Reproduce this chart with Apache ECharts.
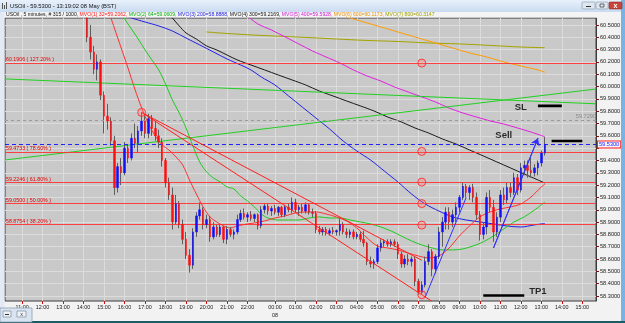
<!DOCTYPE html>
<html><head><meta charset="utf-8">
<script src="https://cdn.jsdelivr.net/npm/echarts@6/dist/echarts.min.js"></script>
<style>html,body{margin:0;padding:0;background:#f2f2f2;overflow:hidden}#c{width:625px;height:323px}</style>
</head><body><div id="c"></div>
<script>
// ---------------- DATA ----------------
// 10-minute slots on the (compressed) time axis: [day, startH, startM, endH, endM]
const sessions = [['07',10,10,22,10],['07',23,0,23,50],['08',0,0,15,40]];
const xTickKeys = ['07 11:00','07 12:00','07 13:00','07 14:00','07 15:00','07 16:00','07 17:00','07 18:00','07 19:00','07 20:00','07 21:00','07 22:00',
  '08 00:00','08 01:00','08 02:00','08 03:00','08 04:00','08 05:00','08 06:00','08 07:00','08 08:00','08 09:00','08 10:00','08 11:00','08 12:00','08 13:00','08 14:00','08 15:00'];
const xTickTexts = ['11:00','12:00','13:00','14:00','15:00','16:00','17:00','18:00','19:00','20:00','21:00','22:00',
  '00:00\n08','01:00','02:00','03:00','04:00','05:00','06:00','07:00','08:00','09:00','10:00','11:00','12:00','13:00','14:00','15:00'];
const yTicks = [58.3,58.4,58.5,58.6,58.7,58.8,58.9,59.0,59.1,59.2,59.3,59.4,59.5,59.6,59.7,59.8,59.9,60.0,60.1,60.2,60.3,60.4,60.5];
const yLabels = [58.3,58.4,58.5,58.6,58.7,58.8,58.9,59.0,59.1,59.2,59.3,59.4,59.6,59.7,59.8,59.9,60.0,60.1,60.2,60.3,60.4,60.5];

// candles: [time, open, high, low, close]
const candles = [
['07 14:10',60.66,60.70,60.36,60.40],['07 14:20',60.40,60.50,60.22,60.28],['07 14:30',60.28,60.33,60.10,60.14],['07 14:40',60.14,60.26,60.05,60.20],
['07 14:50',60.20,60.22,59.89,59.93],['07 15:00',59.93,59.96,59.62,59.76],['07 15:10',59.76,59.86,59.65,59.72],['07 15:20',59.72,59.75,59.52,59.56],
['07 15:30',59.56,59.60,59.12,59.18],['07 15:40',59.18,59.38,59.14,59.35],['07 15:50',59.35,59.42,59.20,59.30],['07 16:00',59.30,59.55,59.28,59.50],
['07 16:10',59.50,59.53,59.38,59.42],['07 16:20',59.42,59.62,59.40,59.58],['07 16:30',59.58,59.70,59.50,59.54],['07 16:40',59.54,59.68,59.46,59.64],
['07 16:50',59.64,59.79,59.60,59.72],['07 17:00',59.72,59.76,59.58,59.62],['07 17:10',59.62,59.78,59.58,59.74],['07 17:20',59.74,59.77,59.60,59.66],
['07 17:30',59.66,59.72,59.56,59.60],['07 17:40',59.60,59.65,59.50,59.55],['07 17:50',59.55,59.58,59.35,59.40],['07 18:00',59.40,59.42,59.18,59.22],
['07 18:10',59.22,59.26,59.08,59.12],['07 18:20',59.12,59.18,58.84,58.90],['07 18:30',58.90,59.12,58.88,59.05],['07 18:40',59.05,59.07,58.85,58.88],
['07 18:50',58.88,58.92,58.72,58.76],['07 19:00',58.76,58.82,58.60,58.63],['07 19:10',58.63,58.68,58.49,58.55],['07 19:20',58.55,58.85,58.52,58.82],
['07 19:30',58.82,58.98,58.78,58.95],['07 19:40',58.95,59.06,58.92,59.00],['07 19:50',59.00,59.02,58.84,58.88],['07 20:00',58.88,58.96,58.85,58.92],
['07 20:10',58.92,58.95,58.74,58.78],['07 20:20',58.78,58.90,58.76,58.86],['07 20:30',58.86,58.88,58.78,58.80],['07 20:40',58.80,58.88,58.78,58.86],
['07 20:50',58.86,58.87,58.73,58.76],['07 21:00',58.76,58.87,58.72,58.84],['07 21:10',58.84,58.86,58.78,58.80],['07 21:20',58.80,58.84,58.76,58.82],
['07 21:30',58.82,58.96,58.80,58.92],['07 21:40',58.92,59.00,58.90,58.97],['07 21:50',58.97,59.01,58.92,58.94],['07 22:00',58.94,58.98,58.90,58.96],
['07 22:10',58.96,58.99,58.91,58.93],['07 23:00',58.93,58.97,58.90,58.96],['07 23:10',58.96,58.97,58.84,58.87],['07 23:20',58.87,59.03,58.85,59.00],
['07 23:30',59.00,59.05,58.97,59.03],['07 23:40',59.03,59.05,58.96,58.99],['07 23:50',58.99,59.03,58.95,59.01],['08 00:00',59.01,59.04,58.96,58.98],
['08 00:10',58.98,59.03,58.95,59.02],['08 00:20',59.02,59.03,58.94,58.96],['08 00:30',58.96,59.04,58.94,59.02],['08 00:40',59.02,59.05,58.98,59.00],
['08 00:50',59.00,59.10,58.97,59.06],['08 01:00',59.06,59.09,58.98,59.00],['08 01:10',59.00,59.04,58.95,59.02],['08 01:20',59.02,59.05,58.97,58.99],
['08 01:30',58.99,59.06,58.97,59.04],['08 01:40',59.04,59.05,58.96,58.98],['08 01:50',58.98,59.01,58.94,58.97],['08 02:00',58.97,58.99,58.81,58.84],
['08 02:10',58.84,58.87,58.80,58.82],['08 02:20',58.82,58.86,58.79,58.84],['08 02:30',58.84,58.86,58.79,58.81],['08 02:40',58.81,58.85,58.79,58.83],
['08 02:50',58.83,58.86,58.80,58.82],['08 03:00',58.82,58.84,58.79,58.83],['08 03:10',58.83,58.93,58.79,58.88],['08 03:20',58.88,58.90,58.80,58.82],
['08 03:30',58.82,58.85,58.77,58.80],['08 03:40',58.80,58.84,58.77,58.82],['08 03:50',58.82,58.84,58.76,58.78],['08 04:00',58.78,58.82,58.76,58.80],
['08 04:10',58.80,58.82,58.74,58.76],['08 04:20',58.76,58.83,58.70,58.73],['08 04:30',58.73,58.74,58.55,58.58],['08 04:40',58.58,58.62,58.53,58.56],
['08 04:50',58.56,58.60,58.52,58.58],['08 05:00',58.58,58.72,58.56,58.69],['08 05:10',58.69,58.76,58.66,58.73],['08 05:20',58.73,58.76,58.70,58.74],
['08 05:30',58.74,58.76,58.70,58.72],['08 05:40',58.72,58.76,58.70,58.74],['08 05:50',58.74,58.76,58.70,58.72],['08 06:00',58.72,58.74,58.60,58.64],
['08 06:10',58.64,58.66,58.53,58.56],['08 06:20',58.56,58.63,58.53,58.60],['08 06:30',58.60,58.64,58.55,58.58],['08 06:40',58.58,58.62,58.54,58.60],
['08 06:50',58.60,58.62,58.38,58.42],['08 07:00',58.42,58.44,58.31,58.33],['08 07:10',58.33,58.42,58.31,58.39],['08 07:20',58.39,58.62,58.37,58.58],
['08 07:30',58.58,58.72,58.55,58.66],['08 07:40',58.66,58.68,58.46,58.52],['08 07:50',58.52,58.64,58.48,58.62],['08 08:00',58.62,58.86,58.60,58.82],
['08 08:10',58.82,58.94,58.70,58.90],['08 08:20',58.90,59.02,58.84,58.98],['08 08:30',58.98,59.02,58.84,58.90],['08 08:40',58.90,59.00,58.86,58.96],
['08 08:50',58.96,59.06,58.90,59.02],['08 09:00',59.02,59.12,58.98,59.10],['08 09:10',59.10,59.22,59.08,59.19],['08 09:20',59.19,59.21,59.10,59.14],
['08 09:30',59.14,59.20,59.08,59.18],['08 09:40',59.18,59.21,59.06,59.10],['08 09:50',59.10,59.14,58.92,58.96],['08 10:00',58.96,58.99,58.75,58.80],
['08 10:10',58.80,58.90,58.76,58.86],['08 10:20',58.86,59.14,58.80,59.10],['08 10:30',59.10,59.16,58.98,59.02],['08 10:40',59.02,59.08,58.74,58.82],
['08 10:50',58.82,58.98,58.78,58.94],['08 11:00',58.94,59.16,58.90,59.12],['08 11:10',59.12,59.18,59.04,59.08],['08 11:20',59.08,59.22,59.05,59.18],
['08 11:30',59.18,59.22,59.10,59.14],['08 11:40',59.14,59.30,59.12,59.26],['08 11:50',59.26,59.29,59.12,59.16],['08 12:00',59.16,59.38,59.14,59.34],
['08 12:10',59.34,59.40,59.28,59.36],['08 12:20',59.36,59.40,59.26,59.32],['08 12:30',59.32,59.42,59.26,59.30],['08 12:40',59.30,59.37,59.27,59.34],
['08 12:50',59.34,59.40,59.28,59.38],['08 13:00',59.38,59.48,59.35,59.46],['08 13:10',59.46,59.59,59.44,59.53]
];

const ma32 = [['07 15:10',60.64],['07 15:30',60.476],['07 15:50',60.313],['07 16:10',60.151],['07 16:30',59.98],['07 16:50',59.826],['07 17:10',59.696],['07 17:30',59.599],['07 17:50',59.526],['07 18:10',59.485],['07 18:30',59.43],['07 18:50',59.364],['07 19:10',59.242],['07 19:30',59.128],['07 19:50',59.023],['07 20:10',58.942],['07 20:30',58.90],['07 20:50',58.869],['07 21:10',58.852],['07 21:30',58.869],['07 22:00',58.885],['07 23:00',58.893],['07 23:30',58.909],['08 00:00',58.933],['08 00:30',58.95],['08 01:00',58.974],['08 01:30',58.982],['08 02:00',58.982],['08 02:30',58.966],['08 03:00',58.942],['08 03:30',58.909],['08 04:00',58.852],['08 04:30',58.771],['08 05:00',58.706],['08 05:30',58.69],['08 06:00',58.674],['08 06:30',58.649],['08 07:00',58.625],['08 07:30',58.609],['08 08:00',58.625],['08 08:30',58.69],['08 09:00',58.787],['08 09:30',58.869],['08 10:00',58.942],['08 10:30',58.982],['08 11:00',59.007],['08 11:30',59.023],['08 12:00',59.047],['08 12:30',59.104],['08 13:00',59.185],['08 13:10',59.206]];
const ma64 = [['07 15:20',60.72],['07 15:40',60.638],['07 16:00',60.549],['07 16:20',60.468],['07 16:40',60.386],['07 17:00',60.297],['07 17:20',60.216],['07 17:40',60.135],['07 18:00',60.021],['07 18:20',59.891],['07 18:40',59.786],['07 19:00',59.664],['07 19:20',59.518],['07 19:40',59.388],['07 20:00',59.307],['07 20:20',59.258],['07 20:40',59.226],['07 21:00',59.185],['07 21:20',59.169],['07 21:40',59.112],['07 22:00',59.071],['07 23:00',59.023],['07 23:20',58.966],['07 23:40',58.933],['08 00:10',58.917],['08 00:40',58.917],['08 01:10',58.917],['08 01:40',58.933],['08 02:10',58.942],['08 02:40',58.933],['08 03:10',58.933],['08 03:40',58.917],['08 04:10',58.901],['08 04:40',58.885],['08 05:10',58.86],['08 05:40',58.828],['08 06:10',58.787],['08 06:40',58.747],['08 07:10',58.714],['08 07:40',58.69],['08 08:10',58.674],['08 08:40',58.674],['08 09:10',58.682],['08 09:40',58.706],['08 10:10',58.739],['08 10:40',58.787],['08 11:10',58.844],['08 11:40',58.901],['08 12:10',58.942],['08 12:40',58.998],['08 13:10',59.061]];
const ma200 = [['07 16:00',60.58],['07 16:20',60.557],['07 17:00',60.524],['07 17:40',60.492],['07 18:20',60.451],['07 19:00',60.394],['07 19:40',60.338],['07 20:20',60.281],['07 21:00',60.224],['07 21:40',60.175],['07 22:10',60.135],['07 23:20',60.078],['08 00:00',60.013],['08 00:40',59.924],['08 01:20',59.834],['08 02:00',59.745],['08 02:40',59.656],['08 03:20',59.558],['08 04:00',59.477],['08 04:40',59.404],['08 05:20',59.315],['08 06:00',59.226],['08 06:40',59.128],['08 07:20',59.047],['08 08:00',58.99],['08 08:40',58.942],['08 09:20',58.917],['08 10:00',58.901],['08 10:40',58.885],['08 11:20',58.868],['08 12:00',58.86],['08 12:40',58.877],['08 13:10',58.889]];
const ma300 = [['07 18:10',60.597],['07 18:20',60.557],['07 18:40',60.492],['07 19:00',60.435],['07 19:30',60.386],['07 20:00',60.33],['07 20:30',60.297],['07 21:00',60.256],['07 21:30',60.216],['07 22:10',60.175],['07 23:30',60.135],['08 00:10',60.094],['08 00:50',60.054],['08 01:30',60.013],['08 02:10',59.964],['08 02:50',59.924],['08 03:30',59.883],['08 04:10',59.843],['08 04:50',59.802],['08 05:30',59.753],['08 06:10',59.713],['08 06:50',59.664],['08 07:30',59.623],['08 08:10',59.575],['08 08:50',59.534],['08 09:30',59.485],['08 10:10',59.437],['08 10:50',59.388],['08 11:30',59.339],['08 12:10',59.29],['08 12:50',59.242],['08 13:10',59.217]];
const ma400 = [['07 22:00',60.58],['07 22:10',60.55],['07 23:10',60.508],['07 23:50',60.459],['08 00:30',60.403],['08 01:10',60.346],['08 01:50',60.289],['08 02:30',60.24],['08 03:10',60.192],['08 03:50',60.135],['08 04:30',60.086],['08 05:10',60.045],['08 05:50',59.997],['08 06:30',59.956],['08 07:10',59.916],['08 07:50',59.875],['08 08:30',59.826],['08 09:10',59.786],['08 09:50',59.753],['08 10:30',59.721],['08 11:10',59.696],['08 11:50',59.664],['08 12:30',59.631],['08 13:10',59.593]];
const ma600 = [['08 03:10',60.58],['08 03:40',60.557],['08 04:30',60.516],['08 05:20',60.476],['08 06:10',60.435],['08 07:00',60.394],['08 07:50',60.354],['08 08:40',60.313],['08 09:30',60.273],['08 10:20',60.24],['08 11:10',60.2],['08 12:00',60.167],['08 12:50',60.135],['08 13:10',60.117]];
const ma800 = [['07 20:00',60.443],['07 21:00',60.431],['07 22:10',60.419],['08 00:00',60.41],['08 01:30',60.399],['08 03:00',60.386],['08 04:30',60.374],['08 06:00',60.366],['08 07:30',60.354],['08 09:00',60.346],['08 10:30',60.334],['08 12:00',60.321],['08 13:10',60.315]];

const greenUp = [['07 10:10',59.404],['08 15:40',59.98]];
const greenDown = [['07 10:10',60.062],['08 15:40',59.86]];
const fibDiagonal = [['07 16:50',59.79],['08 07:40',58.256]];
const redTrend = [['07 16:50',59.79],['08 07:10',58.59]];
const blueTrend = [['08 07:20',58.29],['08 09:20',59.10]];
const blueArrow = [['08 10:40',58.69],['08 12:50',59.58]];

const fibLevels = [60.1906,59.4733,59.2246,59.0500,58.8754];
const fibPercents = ['127.20%','78.60%','61.80%','50.00%','38.20%'];
const fibCircles = [['07 16:50',59.79],['08 07:10',60.1906],['08 07:10',59.4733],['08 07:10',59.2246],['08 07:10',59.05],['08 07:10',58.8754],['08 07:10',58.31]];
const grayLevel = 59.729;
const lastPrice = 59.53;

const slBar = [['08 12:50',59.843],['08 14:00',59.843]];
const sellBar = [['08 13:30',59.558],['08 15:00',59.558]];
const tp1Bar = [['08 10:10',58.304],['08 12:10',58.304]];
const notes = [['SL','08 12:00',59.834],['Sell','08 11:10',59.60],['TP1','08 12:50',58.341]];

// ---------------- BUILD ----------------
const pad = n => (n < 10 ? '0' : '') + n;
const slots = [];
sessions.forEach(([d,h0,m0,h1,m1]) => { for (let t = h0*60+m0; t <= h1*60+m1; t += 10) slots.push(d + ' ' + pad(Math.floor(t/60)) + ':' + pad(t%60)); });
const tickSet = new Set(xTickKeys);
const tickText = {}; xTickKeys.forEach((k,i) => tickText[k] = xTickTexts[i]);
const idx = {}; slots.forEach((s,i) => idx[s] = i);
const wickData = slots.map(() => '-');
const bodyData = slots.map(() => '-');
candles.forEach(([t,o,h,l,c]) => {
  wickData[idx[t]] = [o,c,l,h];
  bodyData[idx[t]] = [o,c,Math.min(o,c),Math.max(o,c)];
});

const FONT = 'Liberation Sans, Arial, sans-serif';
function line(data, color, width, extra) {
  return Object.assign({type:'line', data, symbol:'none', silent:true, lineStyle:{color, width}, z:3}, extra || {});
}

const levelLines = fibLevels.map((v,i) => ({
  yAxis: v, lineStyle:{color:'#ff3030', width:0.9, type:'solid'},
  label:{show:true, position:'insideStartTop', distance:1, formatter: v.toFixed(4) + ' ( ' + fibPercents[i] + ' )', color:'#e00000', fontSize:5.3, fontFamily:FONT}
}));
levelLines.push({yAxis: grayLevel, lineStyle:{color:'#9a9a9a', width:1, type:[3,3]},
  label:{show:true, position:'insideEndTop', distance:0, formatter: grayLevel.toFixed(4), color:'#8a8a8a', fontSize:5.6, fontFamily:FONT}});
levelLines.push({yAxis: lastPrice, lineStyle:{color:'#2222ff', width:1, type:[4,3]},
  label:{show:true, position:'end', distance:2, formatter: lastPrice.toFixed(4), color:'#1a1aff', fontSize:5.6, fontFamily:FONT,
    backgroundColor:'#f4f4ff', borderColor:'#ff2020', borderWidth:1, padding:[0,1,0,1]}});

const option = {
  animation:false,
  backgroundColor:'#f2f2f2',
  grid:{left:5, right:29, top:18, bottom:22, show:true, backgroundColor:'#c9c9c9', borderColor:'#3c3c3c', borderWidth:1},
  xAxis:{type:'category', data:slots, boundaryGap:false,
    axisLine:{show:false},
    axisTick:{show:true, interval:(i,v)=>tickSet.has(v), length:3, lineStyle:{color:'#d01010'}},
    axisLabel:{interval:(i,v)=>tickSet.has(v), formatter:v=>tickText[v]||'', fontSize:5.4, color:'#202020', margin:3, lineHeight:8, fontFamily:FONT},
    splitLine:{show:true, interval:(i,v)=>tickSet.has(v), lineStyle:{color:'#dcdcdc', width:1}}},
  yAxis:{type:'value', position:'right', min:58.2594, max:60.5565,
    axisLine:{show:true, lineStyle:{color:'#3c3c3c'}},
    axisTick:{show:true, length:3, customValues:yTicks, lineStyle:{color:'#7a1010'}},
    axisLabel:{customValues:yLabels, formatter:v=>v.toFixed(4), fontSize:5.6, color:'#202020', margin:4, fontFamily:FONT},
    splitLine:{show:true, lineStyle:{color:'#dcdcdc', width:1}}},
  series:[
    line(ma800,'#a3a300',1,{smooth:0.3}),
    line(ma600,'#ff9c00',1,{smooth:0.3}),
    line(ma400,'#e020e0',1,{smooth:0.3}),
    line(ma300,'#1a1a1a',1,{smooth:0.3}),
    line(ma200,'#2020e8',1,{smooth:0.3}),
    line(ma64,'#20c820',1,{smooth:0.3}),
    line(ma32,'#ff3030',1,{smooth:0.3}),
    line(greenUp,'#22d022',1),
    line(greenDown,'#22d022',1),
    {type:'candlestick', data:wickData, barWidth:1, silent:true, z:4,
      itemStyle:{color:'#5e5e5e', color0:'#5e5e5e', borderColor:'#5e5e5e', borderColor0:'#5e5e5e', borderWidth:1},
      markLine:{silent:true, symbol:'none', animation:false, data:levelLines}},
    {type:'candlestick', data:bodyData, barWidth:2, silent:true, z:5,
      itemStyle:{color:'#1010ff', color0:'#ff1010', borderColor:'#1010ff', borderColor0:'#ff1010', borderWidth:0.5}},
    line(fibDiagonal,'#ff2020',1,{z:6}),
    line(redTrend,'#ff2020',1,{z:6}),
    line(blueTrend,'#3030ff',1,{z:6}),
    line(blueArrow,'#3030ff',1,{z:6, markLine:{silent:true, symbol:['none','arrow'], symbolSize:7, lineStyle:{color:'#3030ff', width:1, type:'solid'}, label:{show:false},
      data:[[{coord:blueArrow[0]},{coord:blueArrow[1]}]]}}),
    line(slBar,'#000000',2.6,{z:7}),
    line(sellBar,'#000000',2.6,{z:7}),
    line(tp1Bar,'#000000',2.6,{z:7}),
    {type:'scatter', data:fibCircles, symbol:'circle', symbolSize:8, silent:true, z:8,
      itemStyle:{color:'rgba(255,120,120,0.35)', borderColor:'#ff2020', borderWidth:1}},
    {type:'scatter', symbolSize:0, silent:true, z:9,
      data:notes.map(n => ({name:n[0], value:[n[1], n[2]]})),
      label:{show:true, position:'inside', formatter:p=>p.name, fontSize:9.5, fontWeight:'bold', color:'#000', fontFamily:FONT}}
  ],
  graphic:[
    {type:'rect', z:100, silent:true, shape:{x:0,y:0,width:625,height:12},
      style:{fill:new echarts.graphic.LinearGradient(0,0,0,1,[{offset:0,color:'#e9f1fb'},{offset:1,color:'#c9dbf0'}])}},
    {type:'rect', z:100, silent:true, shape:{x:0,y:12,width:621,height:5.5}, style:{fill:'#f4f4f4'}},
    {type:'rect', z:101, silent:true, shape:{x:2,y:3,width:1,height:6}, style:{fill:'#555'}},
    {type:'rect', z:101, silent:true, shape:{x:4,y:5,width:1,height:4}, style:{fill:'#555'}},
    {type:'rect', z:101, silent:true, shape:{x:6,y:2,width:1,height:7}, style:{fill:'#555'}},
    {type:'text', z:101, silent:true, x:10, y:6, style:{text:'USOil - 59.5300 - 13:19:02 08 May (BST)', fontSize:5.8, fill:'#111', verticalAlign:'middle', fontFamily:FONT}},
    {type:'text', z:101, silent:true, x:6, y:14.8, style:{verticalAlign:'middle', fontSize:5.1, fontFamily:FONT,
      text:'{k|USOil , 5 minutes, # 315 / 1000, }{r|MVO(1) 32=59.2062, }{g|MVO(2) 64=59.0609, }{b|MVO(3) 200=58.8888, }{k|MVO(4) 300=59.2169, }{m|MVO(5) 400=59.5928, }{o|MVO(6) 600=60.1173, }{y|MVO(7) 800=60.3147}',
      rich:{k:{fill:'#111',fontSize:5.1,fontFamily:FONT},r:{fill:'#ff2020',fontSize:5.1,fontFamily:FONT},g:{fill:'#10b010',fontSize:5.1,fontFamily:FONT},b:{fill:'#2020e0',fontSize:5.1,fontFamily:FONT},
            m:{fill:'#d020d0',fontSize:5.1,fontFamily:FONT},o:{fill:'#f09000',fontSize:5.1,fontFamily:FONT},y:{fill:'#a0a000',fontSize:5.1,fontFamily:FONT}}}},
    {type:'rect', z:101, silent:true, shape:{x:582,y:2,width:13,height:7,r:1}, style:{fill:'#dfe7f1', stroke:'#8295ad', lineWidth:0.6}},
    {type:'rect', z:102, silent:true, shape:{x:586,y:6,width:5,height:1}, style:{fill:'#333'}},
    {type:'rect', z:101, silent:true, shape:{x:596,y:2,width:12,height:7,r:1}, style:{fill:'#dfe7f1', stroke:'#8295ad', lineWidth:0.6}},
    {type:'rect', z:102, silent:true, shape:{x:600,y:4,width:4,height:3}, style:{fill:'none', stroke:'#333', lineWidth:0.7}},
    {type:'rect', z:101, silent:true, shape:{x:609,y:2,width:13,height:7,r:1}, style:{fill:'#c9463d', stroke:'#8a2a24', lineWidth:0.6}},
    {type:'text', z:102, silent:true, x:615.5, y:5.8, style:{text:'x', fontSize:7, fontWeight:'bold', fill:'#fff', align:'center', verticalAlign:'middle', fontFamily:FONT}},
    {type:'rect', z:100, silent:true, shape:{x:0,y:12,width:4.5,height:311}, style:{fill:'#e3eaf3'}},
    {type:'rect', z:100, silent:true, shape:{x:621,y:0,width:4,height:323}, style:{fill:'#79b3e4'}},
    {type:'rect', z:100, silent:true, shape:{x:0,y:321,width:625,height:2}, style:{fill:'#1d5a66'}},
    {type:'rect', z:103, silent:true, shape:{x:0,y:308,width:32,height:14}, style:{fill:'#d9e4f0', stroke:'#8aa0b8', lineWidth:0.8}},
    {type:'rect', z:104, silent:true, shape:{x:3,y:311,width:8,height:6}, style:{fill:'#eef2f7', stroke:'#6a7a90', lineWidth:0.6}},
    {type:'rect', z:105, silent:true, shape:{x:5,y:314,width:4,height:1}, style:{fill:'#333'}},
    {type:'rect', z:104, silent:true, shape:{x:17,y:311,width:9,height:6}, style:{fill:'#eef2f7', stroke:'#6a7a90', lineWidth:0.6}},
    {type:'text', z:105, silent:true, x:21.5, y:314, style:{text:'x', fontSize:5.5, fill:'#333', align:'center', verticalAlign:'middle', fontFamily:FONT}}
  ]
};
const chart = echarts.init(document.getElementById('c'), null, {width:625, height:323});
chart.setOption(option);
</script>
</body></html>
